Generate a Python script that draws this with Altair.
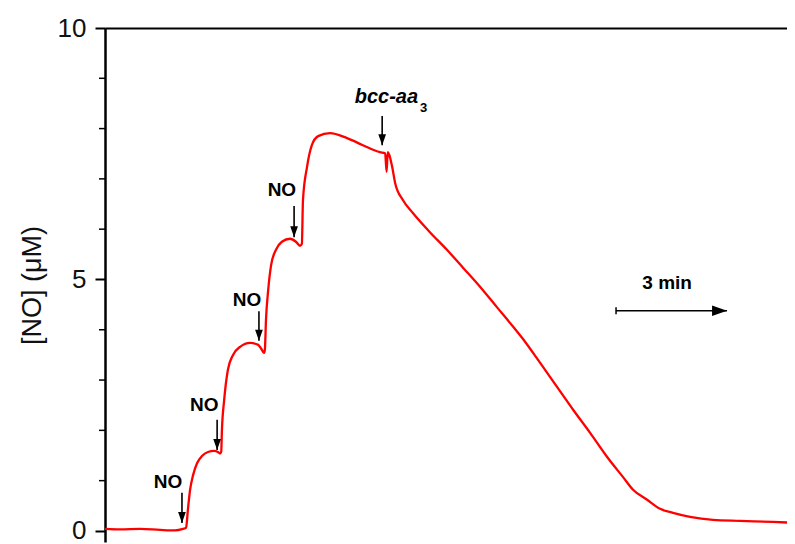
import altair as alt
import pandas as pd

# ---- data (time in min, [NO] in uM) ----
t = [0.00, 0.41, 0.95, 1.49, 1.89, 2.11, 2.19, 2.24, 2.30, 2.38, 2.49, 2.62, 2.78, 2.95, 3.05, 3.11,
     3.14, 3.16, 3.22, 3.32, 3.46, 3.65, 3.92, 4.14, 4.24, 4.30, 4.32, 4.35, 4.41, 4.49, 4.62, 4.78,
     5.00, 5.16, 5.27, 5.32, 5.35, 5.46, 5.59, 5.76, 6.08, 6.54, 6.97, 7.43, 7.57, 7.61, 7.64, 7.68,
     7.76, 7.84, 8.05, 8.32, 8.78, 9.24, 9.68, 10.14, 10.59, 11.03, 11.27, 11.76, 12.22, 12.65, 13.11,
     13.57, 14.00, 14.27, 14.65, 15.00, 15.35, 15.81, 16.43, 17.16, 18.05, 18.65]
no_conc = [0.04, 0.03, 0.04, 0.02, 0.01, 0.04, 0.06, 0.42, 0.82, 1.11, 1.35, 1.49, 1.57, 1.59, 1.57, 1.54,
           1.57, 2.01, 2.60, 3.20, 3.50, 3.66, 3.74, 3.70, 3.60, 3.54, 3.60, 4.19, 4.79, 5.29, 5.59, 5.75,
           5.81, 5.75, 5.67, 5.71, 6.58, 7.24, 7.67, 7.85, 7.91, 7.81, 7.67, 7.53, 7.51, 7.14, 7.53, 7.48,
           7.24, 6.92, 6.58, 6.32, 5.94, 5.59, 5.23, 4.85, 4.45, 4.06, 3.84, 3.34, 2.86, 2.41, 1.95,
           1.47, 1.07, 0.82, 0.62, 0.44, 0.36, 0.28, 0.22, 0.20, 0.18, 0.16]

arrow_x = [2.08, 3.03, 4.16, 5.11, 7.49]
arrow_top = [0.76, 2.21, 4.37, 6.46, 8.25]
arrow_tip = [0.16, 1.61, 3.78, 5.84, 7.67]

no_label_x = [1.70, 2.68, 3.84, 4.78]
no_label_y = [0.97, 2.50, 4.59, 6.78]
no_label_text = ["NO", "NO", "NO", "NO"]

bcc_text = ["bcc-aa"]
bcc_x = [8.46]
bcc_y = [8.63]
sub_text = ["3"]
sub_x = [8.51]
sub_y = [8.41]

bar_start = [13.81]
bar_end = [16.81]
bar_y = [4.38]
bar_label = ["3 min"]
bar_label_x = [15.19]
bar_label_y = [4.93]

major_ticks = [0, 5, 10]
minor_ticks = [1, 2, 3, 4, 6, 7, 8, 9]

FONT = "Liberation Sans"
xs = alt.Scale(domain=[0, 18.43], nice=False, zero=False)
ys = alt.Scale(domain=[-0.22, 10], nice=False, zero=False)

X_AXIS = alt.Axis(orient="top", labels=False, ticks=False, title=None, grid=False,
                  domain=True, domainColor="black", domainWidth=2)
Y_AXIS = alt.Axis(orient="left", values=major_ticks, tickSize=10, tickWidth=2,
                  tickColor="black", domain=True, domainColor="black", domainWidth=2.5,
                  labelFontSize=26, labelFont=FONT, labelColor="#111", labelPadding=9,
                  title="[NO] (\u03bcM)", titleFontSize=27, titleFont=FONT,
                  titleFontWeight="normal", titleColor="#111", titlePadding=11, grid=False)


def X(field):
    return alt.X(field, scale=xs, axis=X_AXIS)


def Y(field):
    return alt.Y(field, scale=ys, axis=Y_AXIS)


trace_df = pd.DataFrame({"t": t, "c": no_conc})
arrow_df = pd.DataFrame({"x": arrow_x, "top": arrow_top, "tip": arrow_tip})
label_df = pd.DataFrame({"x": no_label_x, "y": no_label_y, "text": no_label_text})
bcc_df = pd.DataFrame({"x": bcc_x, "y": bcc_y, "text": bcc_text})
sub_df = pd.DataFrame({"x": sub_x, "y": sub_y, "text": sub_text})
bar_df = pd.DataFrame({"x": bar_start, "x2": bar_end, "y": bar_y})
barlab_df = pd.DataFrame({"x": bar_label_x, "y": bar_label_y, "text": bar_label})
minor_df = pd.DataFrame({"v": minor_ticks})

trace = alt.Chart(trace_df).mark_line(color="#ff0000", strokeWidth=2.3, interpolate="monotone").encode(
    x=X("t:Q"), y=Y("c:Q"),
)

# minor ticks of the y axis (every 1 uM), placed through the x and y scales at t = 0
minor_axis_ticks = alt.Chart(minor_df).mark_tick(
    orient="horizontal", size=6, thickness=1.5, color="black", opacity=1, xOffset=-3
).encode(
    x=alt.XDatum(0, type="quantitative", scale=xs, axis=X_AXIS),
    y=Y("v:Q"),
)

arrow_shaft = alt.Chart(arrow_df).mark_rule(color="black", strokeWidth=1.6).encode(
    x=X("x:Q"), y=Y("top:Q"), y2="tip:Q",
)

arrow_head = alt.Chart(arrow_df).mark_point(
    shape="M-0.7,-1L0.7,-1L0,1Z", size=121, filled=True, color="black", opacity=1, yOffset=-5.5
).encode(x=X("x:Q"), y=Y("tip:Q"))

no_labels = alt.Chart(label_df).mark_text(
    font=FONT, fontSize=19, fontWeight="bold", color="black", baseline="middle", align="center"
).encode(x=X("x:Q"), y=Y("y:Q"), text="text:N")

bcc_label = alt.Chart(bcc_df).mark_text(
    font=FONT, fontSize=20, fontWeight="bold", fontStyle="italic", color="black",
    baseline="middle", align="right"
).encode(x=X("x:Q"), y=Y("y:Q"), text="text:N")

sub_label = alt.Chart(sub_df).mark_text(
    font=FONT, fontSize=13, fontWeight="bold", color="black", baseline="middle", align="left"
).encode(x=X("x:Q"), y=Y("y:Q"), text="text:N")

bar_line = alt.Chart(bar_df).mark_rule(color="black", strokeWidth=1.5).encode(
    x=X("x:Q"), x2="x2:Q", y=Y("y:Q"),
)

bar_head = alt.Chart(bar_df).mark_point(
    shape="M-1,-0.7L1,0L-1,0.7Z", size=225, filled=True, color="black", opacity=1, xOffset=-7.5
).encode(x=X("x2:Q"), y=Y("y:Q"))

bar_tick = alt.Chart(bar_df).mark_point(
    shape="M0,-1L0,1", size=49, filled=False, color="black", strokeWidth=1.5, opacity=1
).encode(x=X("x:Q"), y=Y("y:Q"))

bar_text = alt.Chart(barlab_df).mark_text(
    font=FONT, fontSize=19, fontWeight="bold", color="black", baseline="middle", align="center"
).encode(x=X("x:Q"), y=Y("y:Q"), text="text:N")

chart = alt.layer(
    trace, minor_axis_ticks, arrow_shaft, arrow_head, no_labels, bcc_label, sub_label,
    bar_line, bar_head, bar_tick, bar_text
).properties(
    width=682, height=514,
    autosize=alt.AutoSizeParams(type="none"),
    padding={"left": 97, "top": 20, "right": 0, "bottom": 2},
    background="white",
).configure_view(stroke=None)

chart.save("out.html", embed_options={"renderer": "svg", "actions": False})
